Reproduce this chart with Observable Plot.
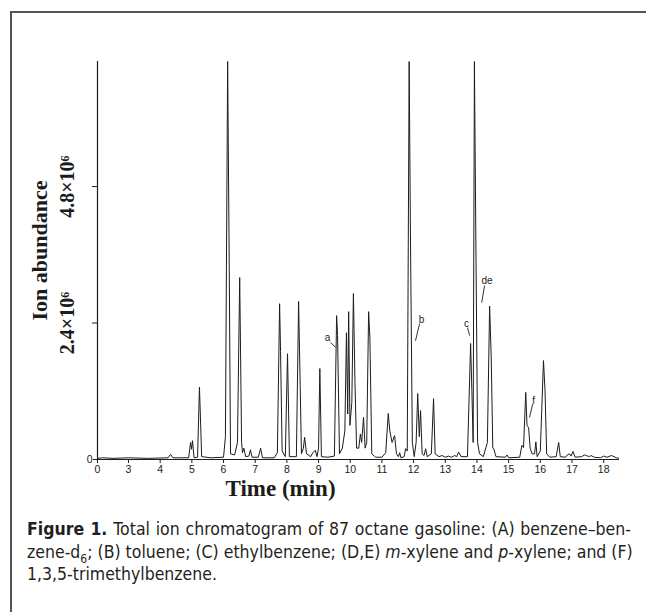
<!DOCTYPE html>
<html>
<head>
<meta charset="utf-8">
<script src="https://cdn.jsdelivr.net/npm/d3@7"></script>
<script src="https://cdn.jsdelivr.net/npm/@observablehq/plot@0.6"></script>
<style>
  html, body { margin: 0; padding: 0; background: #fff; }
  body { width: 646px; height: 612px; overflow: hidden; position: relative; }
  #frame { position: absolute; left: 10px; top: 11px; width: 700px; height: 700px;
           border: 2px solid #555; box-sizing: border-box; }
  #chart { position: absolute; left: 0; top: 0; }
  #caption { position: absolute; left: 27px; top: 518px;
             font-family: "DejaVu Sans", sans-serif;
             font-size: 17.5px; line-height: 22.5px; color: #231f20; }
  #caption div { width: 671px; transform: scaleX(0.9); transform-origin: 0 0; white-space: nowrap; }
  #caption .j { text-align: justify; text-align-last: justify; }
</style>
</head>
<body>
<div id="frame"></div>
<div id="chart"></div>
<div id="caption">
  <div class="j"><b>Figure 1.</b> Total ion chromatogram of 87 octane gasoline: (A) benzene&ndash;ben-</div>
  <div class="j">zene-d<sub style="font-size:12px;line-height:0">6</sub>; (B) toluene; (C) ethylbenzene; (D,E) <i>m</i>-xylene and <i>p</i>-xylene; and (F)</div>
  <div>1,3,5-trimethylbenzene.</div>
</div>
<script>
// Trace vertices (time in min, abundance in 10^6)
const traceTime = [
  0, 0.5, 1.5, 3.0, 3.6, 4.25, 4.33, 4.4, 4.9, 4.96, 4.99, 5.02, 5.07, 5.18, 5.24, 5.31, 5.6,
  6.0, 6.06, 6.13, 6.18, 6.22, 6.35, 6.44, 6.51, 6.57, 6.6, 6.64, 6.7, 6.8, 6.85, 6.9, 7.1, 7.17, 7.23,
  7.6, 7.7, 7.77, 7.8, 7.85, 7.95, 8.02, 8.08, 8.3, 8.37, 8.42, 8.46, 8.52, 8.56, 8.62, 8.75, 8.82, 8.9,
  8.95, 9.0, 9.04, 9.09, 9.3, 9.5, 9.57, 9.6, 9.66, 9.75, 9.83, 9.88, 9.92, 9.95, 9.99, 10.05, 10.1,
  10.15, 10.2, 10.27, 10.32, 10.36, 10.42, 10.47, 10.52, 10.58, 10.62, 10.68, 10.8, 11.0, 11.12, 11.2,
  11.25, 11.32, 11.4, 11.46, 11.52, 11.56, 11.6, 11.7, 11.75, 11.8, 11.86, 11.9, 11.96, 12.02, 12.08,
  12.13, 12.18, 12.22, 12.27, 12.33, 12.38, 12.43, 12.56, 12.63, 12.68, 12.8, 12.9, 13.0, 13.1, 13.2,
  13.3, 13.36, 13.42, 13.5, 13.7, 13.8, 13.84, 13.88, 13.92, 13.97, 14.02, 14.08, 14.2, 14.33, 14.4,
  14.45, 14.5, 14.53, 14.6, 14.9, 14.95, 15.0, 15.35, 15.42, 15.47, 15.54, 15.58, 15.63, 15.68, 15.74,
  15.82, 15.86, 15.9, 16.0, 16.1, 16.15, 16.2, 16.3, 16.5, 16.58, 16.63, 16.8, 16.85, 16.92, 16.97,
  17.03, 17.1, 17.3, 17.4, 17.45, 17.55, 17.6, 17.7, 17.9, 18.0, 18.1, 18.25, 18.4, 18.5
];
const traceAbund = [
  0.02, 0.03, 0.02, 0.03, 0.02, 0.03, 0.09, 0.03, 0.03, 0.30, 0.18, 0.33, 0.03, 0.04, 1.27, 0.05, 0.03,
  0.04, 0.40, 7.00, 3.40, 0.10, 0.08, 0.30, 3.20, 0.30, 0.12, 0.20, 0.05, 0.06, 0.17, 0.04, 0.04, 0.20, 0.03,
  0.03, 0.12, 2.74, 1.90, 0.15, 0.05, 1.86, 0.05, 0.05, 2.78, 1.30, 0.10, 0.20, 0.39, 0.10, 0.05, 0.12, 0.16,
  0.05, 0.20, 1.60, 0.05, 0.04, 0.06, 2.53, 2.18, 0.10, 0.20, 0.50, 2.23, 0.80, 2.60, 0.60, 1.00, 2.92,
  1.34, 0.20, 0.20, 0.45, 0.30, 0.74, 0.20, 0.30, 2.60, 2.14, 0.10, 0.04, 0.04, 0.12, 0.81,
  0.50, 0.30, 0.42, 0.10, 0.05, 0.12, 0.03, 0.05, 0.19, 0.15, 7.00, 4.00, 0.30, 0.05, 0.30,
  1.16, 0.40, 0.86, 0.10, 0.07, 0.19, 0.05, 0.10, 1.07, 0.10, 0.05, 0.07, 0.04, 0.06, 0.04,
  0.07, 0.05, 0.13, 0.05, 0.05, 2.04, 1.20, 0.30, 7.00, 3.55, 0.30, 0.10, 0.05, 0.30, 2.70,
  1.80, 0.20, 0.19, 0.05, 0.04, 0.08, 0.03, 0.04, 0.25, 0.21, 1.18, 0.60, 0.56, 0.20, 0.10,
  0.10, 0.31, 0.05, 0.15, 1.74, 1.20, 0.10, 0.04, 0.05, 0.30, 0.05, 0.04, 0.08, 0.10, 0.06,
  0.14, 0.04, 0.05, 0.08, 0.07, 0.05, 0.07, 0.04, 0.03, 0.06, 0.04, 0.07, 0.03, 0.02
];

// Axis ticks
const xTicks = [0, 3, 4, 5, 6, 7, 8, 9, 10, 11, 12, 13, 14, 15, 16, 17, 18];
const yTicks = [2.4, 4.8];
const yTickLabels = ["2.4\u00d710\u2076", "4.8\u00d710\u2076"];

// Peak annotations (label position and leader line, in data units)
const annLabel = ["a", "b", "c", "de", "f"];
const annTime = [9.28, 12.25, 13.67, 14.32, 15.79];
const annValue = [2.14, 2.46, 2.39, 3.15, 1.04];
const annT1 = [9.38, 12.19, 13.70, 14.24, 15.76];
const annV1 = [2.06, 2.39, 2.32, 3.06, 0.98];
const annT2 = [9.54, 12.06, 13.77, 14.15, 15.66];
const annV2 = [1.97, 2.09, 2.18, 2.76, 0.74];

const trace = traceTime.map((t, i) => ({t, v: traceAbund[i]}));
const ann = annLabel.map((s, i) => ({s, t: annTime[i], v: annValue[i],
  t1: annT1[i], v1: annV1[i], t2: annT2[i], v2: annV2[i]}));

const ink = "#1c1c1c";
const serif = "'Liberation Serif', 'Times New Roman', serif";
const sans = "'Liberation Sans', Arial, sans-serif";

const chart = Plot.plot({
  width: 646,
  height: 505,
  marginLeft: 97,
  marginRight: 27,
  marginTop: 61,
  marginBottom: 46,
  style: {background: "transparent", overflow: "visible"},
  x: {type: "linear", domain: [0, 3, 18.5], range: [97, 128, 619]},
  y: {domain: [0, 7.0], range: [459, 61]},
  marks: [
    Plot.ruleY([0], {stroke: ink, strokeWidth: 1}),
    Plot.ruleX([0], {stroke: ink, strokeWidth: 1.2}),
    Plot.line(trace, {x: "t", y: "v", stroke: ink, strokeWidth: 1, clip: true}),
    Plot.axisX({ticks: xTicks, tickSize: 4, tickPadding: 2, tickFormat: d => String(d),
      fontSize: 10.5, fontFamily: sans, stroke: ink, fill: ink, label: null}),
    Plot.axisY({ticks: yTicks, tickSize: 5, tickPadding: 19, tickRotate: -90,
      tickFormat: (d, i) => yTickLabels[i], fontSize: 20, fontWeight: "bold",
      fontFamily: serif, stroke: ink, fill: ink, label: null}),
    Plot.axisY({ticks: [0], tickSize: 4, tickPadding: 1, tickFormat: () => "0",
      fontSize: 10.5, fontFamily: sans, stroke: ink, fill: ink, label: null}),
    Plot.text(["Time (min)"], {frameAnchor: "bottom", textAnchor: "middle", lineAnchor: "middle",
      dx: -78, dy: 29, text: d => d,
      fontSize: 23, fontWeight: "bold", fontFamily: serif, fill: ink}),
    Plot.text(["Ion abundance"], {frameAnchor: "left", textAnchor: "middle", lineAnchor: "middle",
      dx: -58, dy: -10, rotate: -90, text: d => d,
      fontSize: 22, fontWeight: "bold", fontFamily: serif, fill: ink}),
    Plot.link(ann, {x1: "t1", y1: "v1", x2: "t2", y2: "v2", stroke: ink, strokeWidth: 0.9}),
    Plot.text(ann, {x: "t", y: "v", text: "s", fontSize: 10, fontFamily: sans, fill: ink})
  ]
});
document.getElementById("chart").appendChild(chart);
</script>
</body>
</html>
